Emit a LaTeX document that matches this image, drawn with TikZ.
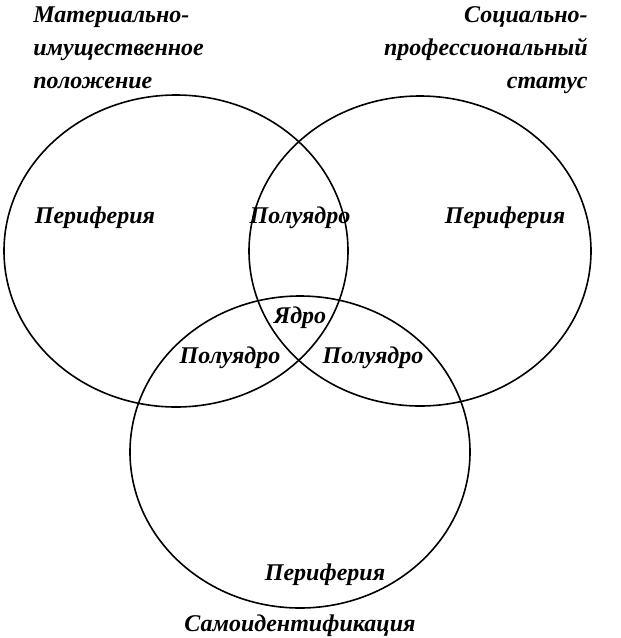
\documentclass[tikz,border=0pt]{standalone}
\usepackage{fontspec}
\setmainfont{Liberation Serif}
\usepackage{tikz}
\usetikzlibrary{shapes,fit,calc,positioning}

\begin{document}
\begin{tikzpicture}[x=0.5pt,y=-0.5pt,font=\fontsize{12}{16.5}\selectfont\bfseries\itshape]

\useasboundingbox (0,0) rectangle (621,638);

\node[draw,thick,ellipse,minimum width=172pt,minimum height=156pt](mat) at (176,251) {};
\node[draw,thick,ellipse,minimum width=171pt,minimum height=155pt](soc) at (420,251) {};
\node[draw,thick,ellipse,minimum width=170pt,minimum height=156pt](sam) at (300,452) {};

\node[anchor=north west,align=left,inner sep=0pt](matlabel) at (33,6) {Материально-\\имущественное\\положение};
\node[anchor=north east,align=right,inner sep=0pt](soclabel) at (588,6) {Социально-\\профессиональный\\статус};
\node[anchor=north,inner sep=0pt](samlabel) at (300,614) {Самоидентификация};

\node(per1) at (95,218) {Периферия};
\node(half1) at (300,218) {Полуядро};
\node(per2) at (505,218) {Периферия};
\node(core) at (300,318) {Ядро};
\node(half2) at (230,358) {Полуядро};
\node(half3) at (373,358) {Полуядро};
\node(per3) at (325,575) {Периферия};

\end{tikzpicture}
\end{document}
